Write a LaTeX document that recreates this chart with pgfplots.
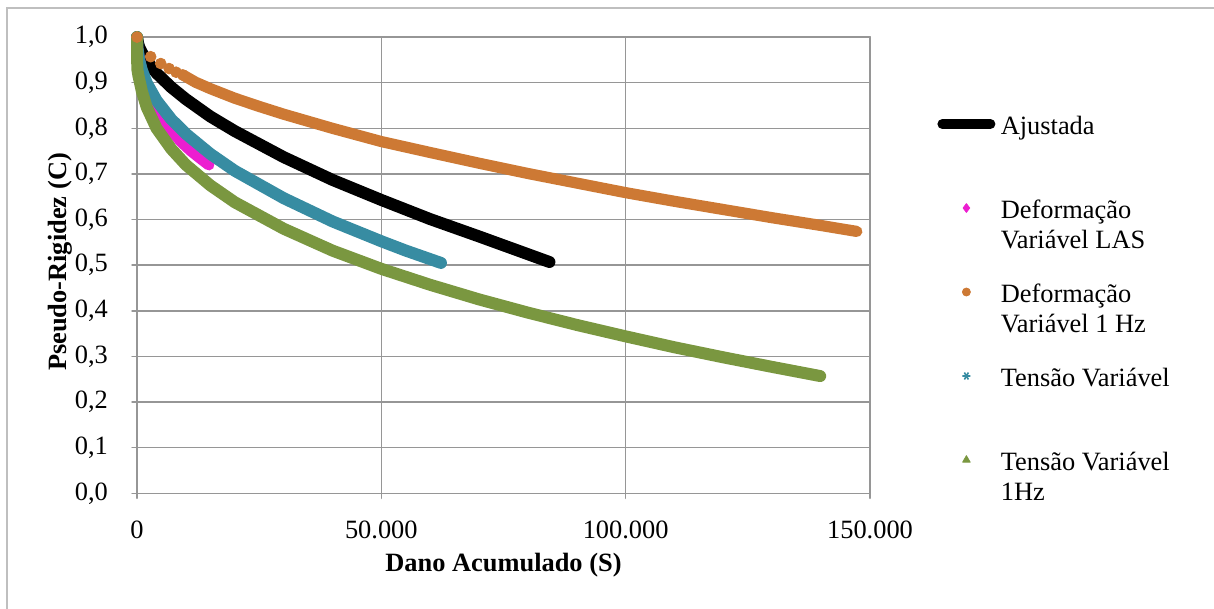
\documentclass[border=0pt]{standalone}
\usepackage{pgfplots}
\pgfplotsset{compat=1.18}
\usepackage{fontspec}
\setmainfont{Liberation Serif}
\definecolor{cpink}{RGB}{236,30,208}
\definecolor{corange}{RGB}{205,121,52}
\definecolor{cteal}{RGB}{55,140,162}
\definecolor{cgreen}{RGB}{122,151,64}
\definecolor{gridgray}{RGB}{150,150,150}
\definecolor{framegray}{RGB}{191,191,191}
\pgfplotsset{
  linelegend/.style={legend image code/.code={\draw[##1] (2.5pt,5pt) -- (26.5pt,5pt);}},
  marklegend/.style={legend image code/.code={\path (0pt,0pt) (29pt,0pt); \draw[##1] plot coordinates {(14.5pt,5pt)};}},
}
\newcommand{\twolines}[2]{\vtop{\hbox{#1}\hbox{#2}}}
\begin{document}
\fontsize{13.2}{15}\selectfont
\begin{tikzpicture}
\useasboundingbox (0,0) rectangle (607pt,304.5pt);
\draw[framegray, line width=1pt] (3.5pt,-5pt) -- (3.5pt,300.5pt) -- (612pt,300.5pt);
\begin{axis}[
  at={(68.5pt,57.85pt)}, anchor=south west,
  width=366.5pt, height=228.1pt, scale only axis,
  xmin=0, xmax=150000, ymin=0, ymax=1,
  clip=false,
  scaled x ticks=false, scaled y ticks=false,
  xtick={0,50000,100000,150000},
  xticklabels={0,{50.000},{100.000},{150.000}},
  ytick={0,0.1,0.2,0.3,0.4,0.5,0.6,0.7,0.8,0.9,1.0},
  yticklabels={{0,0},{0,1},{0,2},{0,3},{0,4},{0,5},{0,6},{0,7},{0,8},{0,9},{1,0}},
  xtick pos=left, ytick pos=left,
  tick align=outside,
  major tick length=2.5pt,
  tick style={gridgray, line width=0.75pt},
  axis line style={gridgray, line width=0.75pt},
  grid=major,
  major grid style={gridgray, line width=0.75pt},
  every tick label/.append style={font=\fontsize{13.2}{15}\selectfont},
  xticklabel style={yshift=-6.5pt},
  yticklabel style={xshift=-7.5pt},
  every axis x label/.style={at={(axis description cs:0.5,-0.157)}, anchor=center},
  every axis y label/.style={at={(axis description cs:-0.105,0.507)}, rotate=90, anchor=center},
  xlabel={\textbf{Dano Acumulado (S)}},
  ylabel={\textbf{Pseudo-Rigidez (C)}},
  legend style={at={(axis description cs:1.0914,0.8314)}, anchor=north west,
    draw=none, fill=none, inner sep=0pt, outer sep=0pt,
    row sep=10pt, column sep=2.5pt,
    font=\fontsize{13.2}{15}\selectfont,
    nodes={inner sep=0pt, outer sep=0pt, text height=10pt, text depth=22pt},
    cells={anchor=base west}},
  line join=round, line cap=round,
]
\addlegendimage{black, line width=5pt, line cap=round, linelegend}
\addlegendentry{Ajustada}
\addlegendimage{only marks, mark=diamond*, mark size=2.2pt, color=cpink, marklegend}
\addlegendentry{\twolines{Deformação}{Variável LAS}}
\addlegendimage{only marks, mark=*, mark size=2pt, color=corange, marklegend}
\addlegendentry{\twolines{Deformação}{Variável 1 Hz}}
\addlegendimage{only marks, mark=asterisk, mark size=2pt, color=cteal, mark options={rotate=90, line width=0.8pt}, marklegend}
\addlegendentry{Tensão Variável}
\addlegendimage{only marks, mark=triangle*, mark size=2.2pt, color=cgreen, marklegend}
\addlegendentry{\twolines{Tensão Variável}{1Hz}}

% Ajustada
\addplot[black, line width=6pt, forget plot] coordinates {
(0,1.0) (250,0.985) (500,0.977) (1000,0.966) (2000,0.948) (4000,0.921)
(7000,0.890) (10000,0.864) (15000,0.826) (20000,0.794) (30000,0.737)
(40000,0.687) (50000,0.643) (60000,0.601) (70000,0.563) (84400,0.507)};
% Deformacao Variavel LAS
\addplot[cpink, line width=5.6pt, forget plot] coordinates {
(0,1.0) (100,0.975) (500,0.95) (1000,0.925) (2000,0.889) (3500,0.852)
(5000,0.823) (7000,0.795) (9000,0.771) (11000,0.751) (13000,0.734) (14700,0.72)};
% Deformacao Variavel 1 Hz
\addplot[only marks, mark=*, mark size=2.7pt, corange, forget plot] coordinates {
(0,1.0) (2800,0.957) (4860,0.942) (6570,0.931) (8000,0.923) (9380,0.917)};
\addplot[corange, line width=5.6pt, forget plot] coordinates {
(9380,0.917) (12000,0.901) (15000,0.887) (20000,0.866) (25000,0.848)
(30000,0.831) (40000,0.800) (50000,0.771) (60000,0.747) (70000,0.7235)
(80000,0.701) (90000,0.680) (100000,0.659) (110000,0.640) (120000,0.622)
(130000,0.604) (140000,0.587) (147300,0.574)};
% Tensao Variavel
\addplot[cteal, line width=6pt, forget plot] coordinates {
(0,1.0) (100,0.975) (500,0.947) (1000,0.927) (2000,0.899) (4000,0.861)
(7000,0.820) (10000,0.788) (15000,0.744) (20000,0.707) (30000,0.647)
(40000,0.596) (50000,0.5525) (55000,0.532) (62200,0.505)};
% Tensao Variavel 1Hz
\addplot[cgreen, line width=6pt, forget plot] coordinates {
(0,1.0) (60,0.93) (300,0.915) (1000,0.881) (2000,0.846) (4000,0.800) (7000,0.755)
(10000,0.720) (15000,0.675) (20000,0.638) (30000,0.580) (40000,0.532)
(50000,0.492) (60000,0.457) (70000,0.425) (80000,0.396) (90000,0.369)
(100000,0.344) (110000,0.320) (120000,0.298) (130000,0.277) (139800,0.257)};
\end{axis}
\end{tikzpicture}
\end{document}
